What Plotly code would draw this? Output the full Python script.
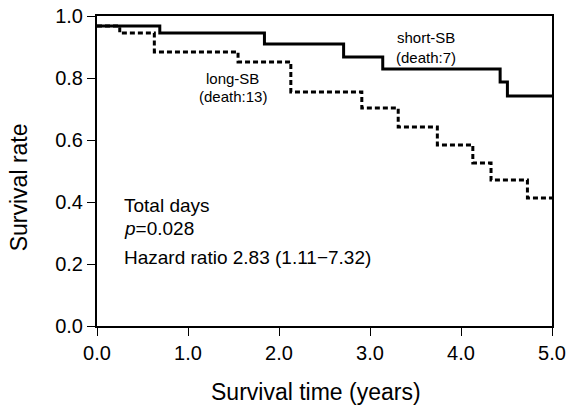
import plotly.graph_objects as go

# Kaplan-Meier step data (time in years, survival rate)
short_t = [0.0, 0.69, 1.84, 2.71, 3.14, 4.43, 4.51, 5.0]
short_s = [0.968, 0.945, 0.91, 0.868, 0.829, 0.787, 0.742, 0.742]

long_t = [0.0, 0.25, 0.63, 1.55, 2.13, 2.91, 3.31, 3.74, 4.13, 4.33, 4.73, 5.0]
long_s = [0.968, 0.945, 0.884, 0.852, 0.755, 0.703, 0.642, 0.584, 0.526, 0.471, 0.413, 0.413]

x_ticks = [0, 1, 2, 3, 4, 5]
x_tick_labels = ["0.0", "1.0", "2.0", "3.0", "4.0", "5.0"]
y_ticks = [0, 0.2, 0.4, 0.6, 0.8, 1.0]
y_tick_labels = ["0.0", "0.2", "0.4", "0.6", "0.8", "1.0"]

FONT = "Liberation Sans, Arial, sans-serif"

fig = go.Figure()
fig.add_trace(go.Scatter(x=long_t, y=long_s, mode="lines", line_shape="hv",
                         line=dict(color="black", width=3, dash="5px,3px"),
                         cliponaxis=False, showlegend=False))
fig.add_trace(go.Scatter(x=short_t, y=short_s, mode="lines", line_shape="hv",
                         line=dict(color="black", width=3),
                         cliponaxis=False, showlegend=False))

annots = [
    dict(x=3.62, y=0.932, text="short-SB"),
    dict(x=3.62, y=0.865, text="(death:7)"),
    dict(x=1.49, y=0.80, text="long-SB"),
    dict(x=1.49, y=0.739, text="(death:13)"),
]
for a in annots:
    fig.add_annotation(x=a["x"], y=a["y"], text=a["text"], showarrow=False,
                       xanchor="center", yanchor="middle",
                       font=dict(family=FONT, size=15, color="black"))

left_texts = [
    (0.39, "Total days"),
    (0.313, "<i>p</i>=0.028"),
    (0.22, "Hazard ratio 2.83 (1.11\u22127.32)"),
]
for yv, t in left_texts:
    fig.add_annotation(x=0.27, y=yv, text=t, showarrow=False, xanchor="left",
                       yanchor="middle", font=dict(family=FONT, size=19, color="black"))

# axis titles
fig.add_annotation(xref="paper", yref="paper", x=0.481, y=-0.213,
                   text="Survival time (years)", showarrow=False,
                   xanchor="center", yanchor="middle",
                   font=dict(family=FONT, size=23, color="black"))
fig.add_annotation(xref="paper", yref="paper", x=-0.171, y=0.448,
                   text="Survival rate", showarrow=False, textangle=-90,
                   xanchor="center", yanchor="middle",
                   font=dict(family=FONT, size=23, color="black"))

fig.update_xaxes(range=[0, 5], tickvals=x_ticks, ticktext=x_tick_labels,
                 showline=True, linecolor="black", linewidth=1.5, mirror=True,
                 ticks="outside", ticklen=8, tickcolor="black", showgrid=False,
                 zeroline=False, automargin=False,
                 tickfont=dict(family=FONT, size=20, color="black"))
fig.update_yaxes(range=[0, 1], tickvals=y_ticks, ticktext=y_tick_labels,
                 showline=True, linecolor="black", linewidth=2, mirror=True,
                 ticks="outside", ticklen=8, tickcolor="black", showgrid=False,
                 zeroline=False, automargin=False,
                 tickfont=dict(family=FONT, size=20, color="black"))

fig.update_layout(width=566, height=406, plot_bgcolor="white", paper_bgcolor="white",
                  margin=dict(l=97, r=14, t=16, b=80))

fig.write_html("out.html", config={"displayModeBar": False},
               post_script="document.body.style.margin='0';")
